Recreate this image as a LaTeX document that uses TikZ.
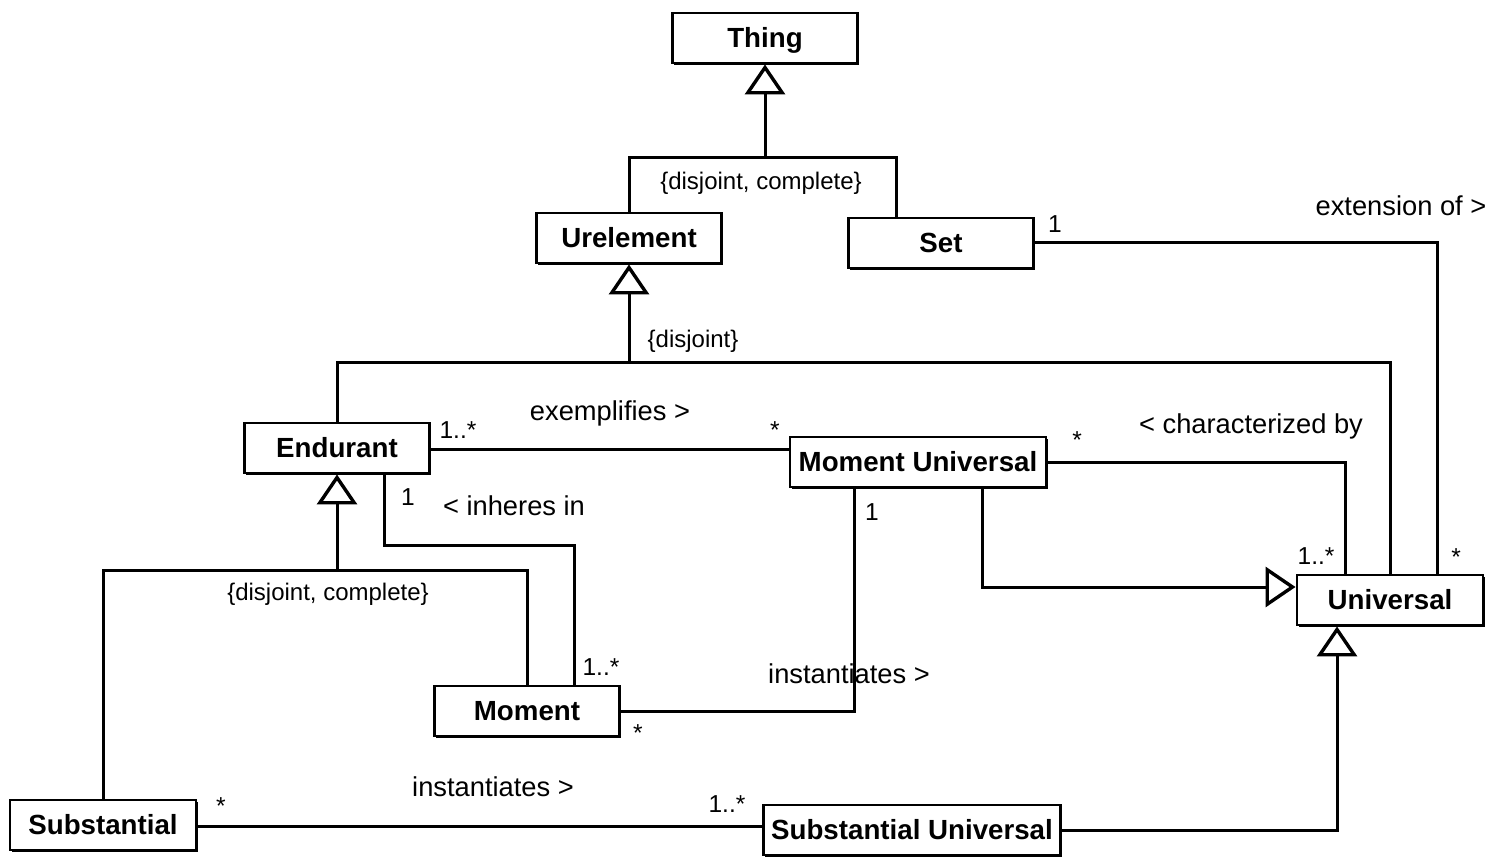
\documentclass[tikz,border=0pt]{standalone}
\usepackage{fontspec}
\setmainfont{Liberation Sans}
\usetikzlibrary{arrows.meta,shadows}
\begin{document}
\begin{tikzpicture}[x=1pt,y=-1pt,
  cls/.style={draw, line width=2.9pt, fill=white, minimum height=50pt, inner sep=0pt,
    font=\bfseries\fontsize{27.7}{30}\selectfont, text height=19.8pt, text depth=0pt,
    drop shadow={shadow xshift=1.8pt, shadow yshift=-1.8pt, opacity=1, fill=black}},
  conn/.style={line width=3pt},
  gen/.style={conn, -{Triangle[open, length=30pt, width=40pt, line width=3.4pt]}},
  lbl/.style={inner sep=0pt, font=\fontsize{27.3}{30}\selectfont, text height=19.5pt, text depth=0pt},
  note/.style={inner sep=0pt, font=\fontsize{24}{26}\selectfont, text height=17.2pt, text depth=0pt},
  mult/.style={inner sep=0pt, font=\fontsize{24.5}{26}\selectfont, text height=17.5pt, text depth=0pt}]
\useasboundingbox (0,0) rectangle (1495,858);

% classes
\node[cls, minimum width=185pt] (thing) at (765,38) {Thing};
\node[cls, minimum width=185pt] (ure) at (629,238) {Urelement};
\node[cls, minimum width=185pt] (set) at (941,243) {Set};
\node[cls, minimum width=185pt] (end) at (337,448) {Endurant};
\node[cls, minimum width=256pt] (mu) at (918,462) {Moment Universal};
\node[cls, minimum width=186pt] (uni) at (1390,600) {Universal};
\node[cls, minimum width=185pt] (mom) at (527,711) {Moment};
\node[cls, minimum width=186pt] (sub) at (103,825) {Substantial};
\node[cls, minimum width=297pt] (su) at (912,830) {Substantial Universal};

% generalisation joints
\coordinate (tj) at (765,158);
\coordinate (uj) at (629,362);
\coordinate (ej) at (337,570);

% labels
\node[note] (c1) at (761,181) {\{disjoint, complete\}};
\node[note] (c2) at (693,339) {\{disjoint\}};
\node[note] (c3) at (328,592) {\{disjoint, complete\}};

\node[mult] (m1) at (1055,224) {1};
\node[lbl] (a1) at (1401,206) {extension of >};
\node[mult] (m2) at (1456,557) {*};

\node[mult] (m3) at (458,430) {1..*};
\node[lbl] (a2) at (610,411) {exemplifies >};
\node[mult] (m4) at (775,430) {*};

\node[mult] (m5) at (408,497) {1};
\node[lbl] (a3) at (514,506) {< inheres in};
\node[mult] (m6) at (601,667) {1..*};

\node[mult] (m7) at (1077,440) {*};
\node[lbl] (a4) at (1251,424) {< characterized by};
\node[mult] (m8) at (1316,556) {1..*};

\node[mult] (m9) at (872,512) {1};
\node[lbl] (a5) at (849,674) {instantiates >};
\node[mult] (m10) at (638,733) {*};

\node[mult] (m11) at (221,806) {*};
\node[lbl] (a6) at (493,787) {instantiates >};
\node[mult] (m12) at (727,804) {1..*};

% generalisations
\draw[conn] (ure.north) |- (tj) -| ([xshift=-45pt]set.north);
\draw[gen] (tj) -- (thing.south);
\draw[conn] (end.north) |- (uj) -| (uni.north);
\draw[gen] (uj) -- (ure.south);
\draw[conn] (sub.north) |- (ej) -| (mom.north);
\draw[gen] (ej) -- (end.south);
\draw[gen] ([xshift=64pt]mu.south) |- ([yshift=13pt]uni.west);
\draw[gen] (su.east) -| ([xshift=-53pt]uni.south);

% associations
\draw[conn] (set.east) -| ([xshift=47pt]uni.north);
\draw[conn] ([yshift=-1pt]end.east) -- ([yshift=-1pt]end.east -| mu.west);
\draw[conn] (mu.east) -| ([xshift=-45pt]uni.north);
\draw[conn] ([xshift=47pt]end.south) -- ++(0,71) -| ([xshift=47pt]mom.north);
\draw[conn] (mom.east) -| ([xshift=-64pt]mu.south);
\draw[conn] ([yshift=-1pt]sub.east) -- ([yshift=-1pt]sub.east -| su.west);
\end{tikzpicture}
\end{document}
